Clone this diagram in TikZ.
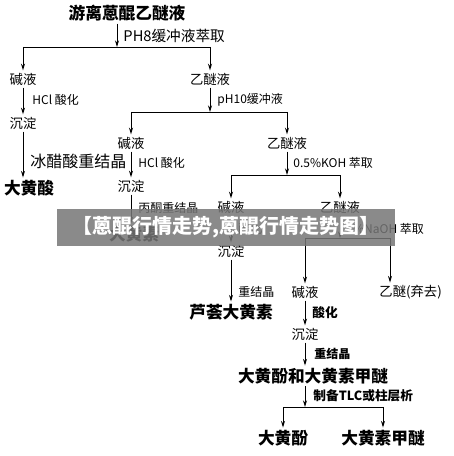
\documentclass[tikz,border=0pt]{standalone}
\usepackage{fontspec}
\setmainfont{Noto Sans CJK SC}
\usetikzlibrary{calc, arrows.meta}

\definecolor{bannergray}{RGB}{118,118,118}

\tikzset{
  stage/.style={inner sep=1.5pt, font=\fontsize{10}{12}\selectfont},
  product/.style={inner sep=1.5pt, font=\fontsize{12.5}{14}\selectfont\bfseries},
  cond/.style={inner sep=0pt, anchor=west, font=\fontsize{9}{11}\selectfont},
  flow/.style={-{Stealth[length=5pt,width=3pt]}},
}

\begin{document}
\begin{tikzpicture}[x=0.75pt, y=-0.75pt, line width=0.7pt]
  \fill[white] (0,0) rectangle (453,456);
  \useasboundingbox (0,0) rectangle (453,456);

  % first split: PH8
  \node[product] (top) at (127,13) {游离蒽醌乙醚液};
  \coordinate (j1) at (117,47);
  \node[stage] (alk1) at (23,79) {碱液};
  \node[stage] (eth1) at (210,79) {乙醚液};
  \draw[flow] (top.south -| j1) -- (j1);
  \draw (alk1 |- j1) -- (eth1 |- j1);
  \draw[flow] (alk1 |- j1) -- (alk1);
  \draw[flow] (eth1 |- j1) -- (eth1);
  \node[cond, font=\fontsize{11}{13}\selectfont] (c1) at (123,36) {PH8缓冲液萃取};

  % left column: rhein
  \node[stage] (ppt1) at (23,123) {沉淀};
  \node[product] (rhein) at (29,188) {大黄酸};
  \draw[flow] (alk1) -- (ppt1);
  \draw[flow] (ppt1) -- (ppt1 |- rhein.north);
  \node[cond] (c2) at (32,100) {HCl 酸化};
  \node[cond, font=\fontsize{12}{14}\selectfont] (c3) at (30,161) {冰醋酸重结晶};

  % second split: pH10
  \coordinate (j2) at (210,112);
  \node[stage] (alk2) at (131,143) {碱液};
  \node[stage] (eth2) at (287,143) {乙醚液};
  \draw[flow] (eth1) -- (j2);
  \draw (alk2 |- j2) -- (eth2 |- j2);
  \draw[flow] (alk2 |- j2) -- (alk2);
  \draw[flow] (eth2 |- j2) -- (eth2);
  \node[cond] (c4) at (217,100) {pH10缓冲液};

  % emodin
  \node[stage] (ppt2) at (131,186) {沉淀};
  \node[product] (emodin) at (134,234) {大黄素};
  \draw[flow] (alk2) -- (ppt2);
  \draw[flow] (ppt2) -- (ppt2 |- emodin.north);
  \node[cond] (c5) at (138,163) {HCl 酸化};
  \node[cond] (c6) at (138,208) {丙酮重结晶};

  % third split: KOH
  \coordinate (j3) at (287,175);
  \node[stage] (alk3) at (231,207) {碱液};
  \node[stage] (eth3) at (340,207) {乙醚液};
  \draw[flow] (eth2) -- (j3);
  \draw (alk3 |- j3) -- (eth3 |- j3);
  \draw[flow] (alk3 |- j3) -- (alk3);
  \draw[flow] (eth3 |- j3) -- (eth3);
  \node[cond] (c7) at (293,163) {0.5\%KOH 萃取};

  % aloe-emodin
  \node[stage] (ppt3) at (231,251) {沉淀};
  \node[product] (aloe) at (231,312) {芦荟大黄素};
  \draw[flow] (alk3) -- (ppt3);
  \draw[flow] (ppt3) -- (aloe);
  \node[cond] (c8) at (238,229) {酸化};
  \node[cond] (c9) at (238,292) {重结晶};

  % fourth split: NaOH
  \coordinate (j4) at (340,238);
  \coordinate (jw) at (390,238);
  \node[stage] (alk4) at (305,292) {碱液};
  \node[stage, anchor=west] (waste) at (377,292) {乙醚(弃去)};
  \draw[flow] (eth3) -- (j4);
  \draw (alk4 |- j4) -- (jw);
  \draw[flow] (alk4 |- j4) -- (alk4);
  \draw[flow] (jw) -- (jw |- waste.north);
  \node[cond] (c10) at (346,229) {5\%NaOH 萃取};

  % chrysophanol and physcion
  \node[stage] (ppt4) at (305,334) {沉淀};
  \node[product] (mix) at (313,376) {大黄酚和大黄素甲醚};
  \draw[flow] (alk4) -- (ppt4);
  \draw[flow] (ppt4) -- (ppt4 |- mix.north);
  \node[cond, font=\fontsize{9.5}{11}\selectfont\bfseries] (c11) at (312,313) {酸化};
  \node[cond, font=\fontsize{9}{11}\selectfont\bfseries] (c12) at (314,354) {重结晶};

  \coordinate (j5) at (305,407);
  \node[product] (chry) at (283,438) {大黄酚};
  \node[product] (phys) at (383,438) {大黄素甲醚};
  \draw[flow] (mix.south -| j5) -- (j5);
  \draw (chry |- j5) -- (phys |- j5);
  \draw[flow] (chry |- j5) -- (chry);
  \draw[flow] (phys |- j5) -- (phys);
  \node[cond, font=\fontsize{9.5}{11}\selectfont\bfseries] (c13) at (313,396) {制备TLC或柱层析};

  % banner on top
  \node[fill=bannergray, fill opacity=0.85, text opacity=1, text=white,
        minimum width=338*0.75pt, minimum height=37*0.75pt, inner sep=0pt,
        font=\fontsize{15}{17}\selectfont\bfseries] (banner) at (226,227.5)
        {【蒽醌行情走势,蒽醌行情走势图】};
\end{tikzpicture}
\end{document}
